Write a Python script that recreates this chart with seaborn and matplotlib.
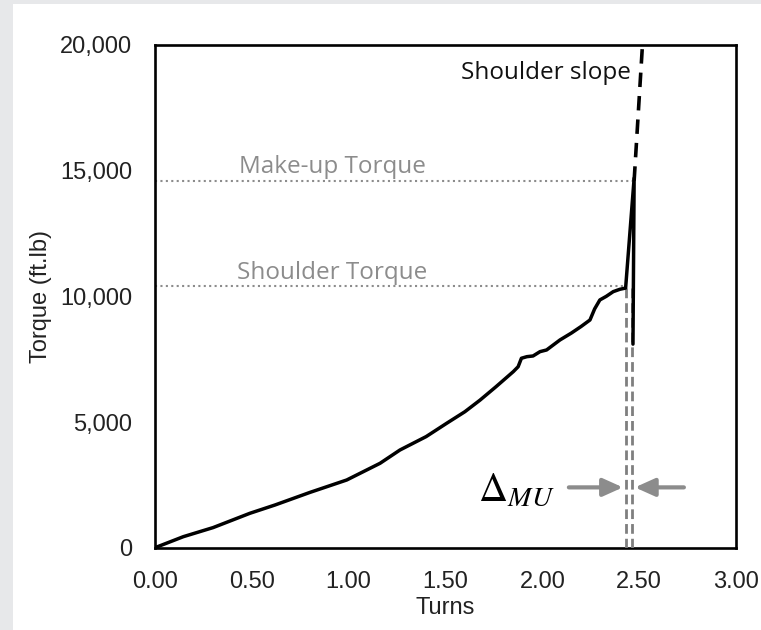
import matplotlib
matplotlib.use("Agg")
import matplotlib.pyplot as plt
import matplotlib.ticker as mticker
from matplotlib.patches import Rectangle
import pandas as pd
import seaborn as sns

# Torque-turn record of the connection make-up
turns = [0.00, 0.146, 0.30, 0.49, 0.62, 0.80, 0.99, 1.162, 1.265, 1.40, 1.506,
         1.60, 1.678, 1.76, 1.85, 1.875, 1.892, 1.92, 1.952, 1.988, 2.022,
         2.091, 2.15, 2.20, 2.246, 2.27, 2.297, 2.33, 2.366, 2.40, 2.43,
         2.474, 2.468]
torque = [0, 438, 800, 1369, 1700, 2200, 2694, 3358, 3888, 4420, 4950,
          5410, 5870, 6400, 7004, 7200, 7537, 7600, 7628, 7800, 7867,
          8265, 8540, 8800, 9060, 9500, 9857, 10000, 10187, 10280, 10330,
          14700, 8100]

# Reference levels and positions
makeup_torque = 14600
shoulder_torque = 10400
shoulder_turn = 2.432
makeup_turn = 2.462
slope_turns = [2.474, 2.517]
slope_torque = [14600, 20000]

x_ticks = [0.0, 0.5, 1.0, 1.5, 2.0, 2.5, 3.0]
y_ticks = [0, 5000, 10000, 15000, 20000]

sns.set_theme(style="white")
plt.rcParams["font.family"] = ["Liberation Sans", "DejaVu Sans"]
plt.rcParams["mathtext.fontset"] = "stix"

fig = plt.figure(figsize=(7.61, 6.30), dpi=100)
fig.patch.set_facecolor("#e7e8ea")
card = Rectangle((13 / 761, 0), 1, 1 - 4 / 630, transform=fig.transFigure,
                 facecolor="white", edgecolor="none", zorder=-10)
fig.add_artist(card)
ax = fig.add_axes([155 / 761, 1 - 547.7 / 630, (736 - 155) / 761, (547.7 - 45) / 630])
ax.set_zorder(1)
ax.set_facecolor("white")

df = pd.DataFrame({"Turns": turns, "Torque": torque})
sns.lineplot(data=df, x="Turns", y="Torque", sort=False, estimator=None,
             color="black", lw=2.5, ax=ax, zorder=5)

gray = "#8c8c8c"
note_font = ["Open Sans", "DejaVu Sans"]
# reference torque levels
ax.plot([0, slope_turns[0]], [makeup_torque] * 2, ls=(0, (1, 1.6)), color=gray, lw=1.5, zorder=2)
ax.plot([0, shoulder_turn], [shoulder_torque] * 2, ls=(0, (1, 1.6)), color=gray, lw=1.5, zorder=2)
ax.text(0.915, makeup_torque + 60, "Make-up Torque", color=gray, fontsize=17.5,
        family=note_font, ha="center", va="bottom")
ax.text(0.915, shoulder_torque + 60, "Shoulder Torque", color=gray, fontsize=17.5,
        family=note_font, ha="center", va="bottom")

# shoulder slope extension
ax.plot(slope_turns, slope_torque, color="black", lw=2.6, ls=(0, (4, 2.5)), zorder=6)
ax.text(2.455, 18900, "Shoulder slope", color="#111111", fontsize=17.5, family=note_font,
        ha="right", va="center")

# turn markers at shoulder and make-up
ax.plot([shoulder_turn] * 2, [0, shoulder_torque], color="#7f7f7f", lw=2.0, ls=(0, (3.5, 1.8)), zorder=3)
ax.plot([makeup_turn] * 2, [0, shoulder_torque], color="#7f7f7f", lw=2.0, ls=(0, (3.5, 1.8)), zorder=3)

arrow_y = 2400
ax.annotate("", xy=(2.416, arrow_y), xytext=(2.137, arrow_y),
            arrowprops=dict(arrowstyle="-|>,head_length=1.0,head_width=0.45",
                            color=gray, lw=3, shrinkA=0, shrinkB=0))
ax.annotate("", xy=(2.478, arrow_y), xytext=(2.731, arrow_y),
            arrowprops=dict(arrowstyle="-|>,head_length=1.0,head_width=0.45",
                            color=gray, lw=3, shrinkA=0, shrinkB=0))
ax.text(1.864, arrow_y - 100, r"$\Delta_{MU}$", fontsize=29, color="black", ha="center", va="center")

ax.set_xlim(0, 3)
ax.set_ylim(0, 20000)
ax.set_xticks(x_ticks)
ax.set_yticks(y_ticks)
ax.xaxis.set_major_formatter(mticker.FormatStrFormatter("%.2f"))
ax.yaxis.set_major_formatter(mticker.FuncFormatter(lambda v, p: f"{int(v):,}"))
ax.tick_params(direction="in", length=6, width=1.8, colors="black", labelsize=17,
               labelcolor="#222222", pad=16.5)
ax.tick_params(axis="x", pad=17)
for s in ax.spines.values():
    s.set_visible(True)
    s.set_color("black")
    s.set_linewidth(1.9)
ax.set_xlabel("Turns", fontsize=17, color="#222222", labelpad=3)
ax.set_ylabel("Torque (ft.lb)", fontsize=17, color="#222222", labelpad=6)

fig.savefig("out.png", dpi=100, facecolor=fig.get_facecolor())
